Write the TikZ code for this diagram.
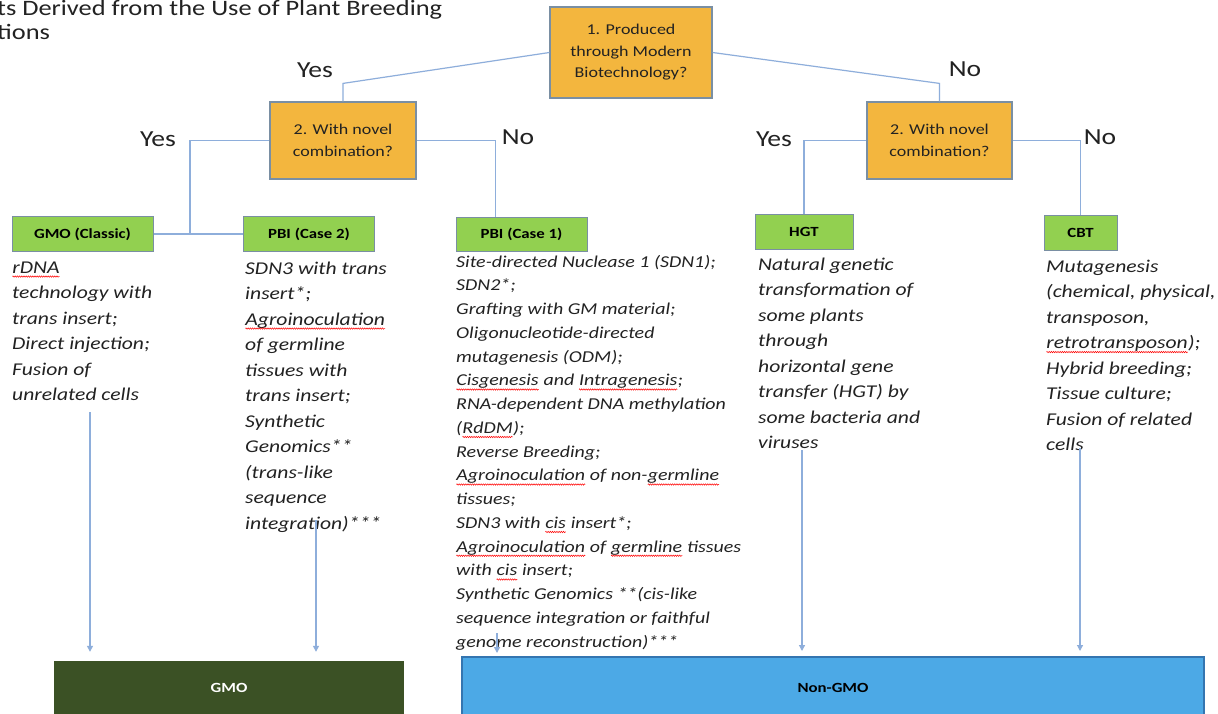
\documentclass[tikz,border=0pt]{standalone}
\usepackage{fontspec}
\setmainfont{Carlito}[FakeStretch=1.2]
\usetikzlibrary{arrows.meta,calc,decorations.pathmorphing}
\definecolor{qorange}{HTML}{F3B63E}
\definecolor{qgreen}{HTML}{92D050}
\definecolor{qborder}{HTML}{7A8FA3}
\definecolor{qline}{HTML}{8EAEDB}
\definecolor{qdark}{HTML}{3B5125}
\definecolor{qblue}{HTML}{4CA9E6}
\definecolor{qblueb}{HTML}{3475B0}
\definecolor{qtext}{HTML}{222222}
\newcommand\sqw[1]{\tikz[baseline=(w.base)]{\node[inner sep=0pt, anchor=base, outer sep=0pt] (w) {#1};\draw[red, line width=0.5pt, decorate, decoration={zigzag, amplitude=0.7pt, segment length=2.2pt}] ([yshift=-3.5pt]w.base west) -- ([yshift=-3.5pt]w.base east);}}
\begin{document}
\begin{tikzpicture}[x=1pt,y=-1pt,
  qbox/.style={draw=qborder, fill=qorange, line width=1.2pt, font=\fontsize{15}{21.5}\selectfont, text=qtext, align=center, inner sep=0pt},
  gbox/.style={draw=qborder, fill=qgreen, line width=1pt, font=\bfseries\fontsize{14}{16}\selectfont, text=black, inner sep=0pt},
  ans/.style={font=\fontsize{23}{24}\selectfont, text=qtext, inner sep=0pt},
  desc/.style={font=\itshape\fontsize{18}{25.5}\selectfont, align=left, anchor=north west, inner sep=0pt, text=qtext},
  descs/.style={font=\itshape\fontsize{16.6}{23.75}\selectfont, align=left, anchor=north west, inner sep=0pt, text=qtext},
  conn/.style={draw=qline, line width=1.2pt},
  arr/.style={conn, -{Triangle[width=6pt,length=6pt]}}]
\useasboundingbox (0,0) rectangle (1218,713);
\clip (0,0) rectangle (1218,713);
\fill[white] (0,0) rectangle (1218,713);

% title
\node[anchor=north west, inner sep=0pt, align=left, font=\fontsize{22}{24.5}\selectfont, text=qtext] (title) at (-3,-2) {\strut ts Derived from the Use of Plant Breeding\\tions};

% decision boxes
\node[qbox, minimum width=162, minimum height=91] (b1) at (631,52.5) {1. Produced\\through Modern\\Biotechnology?};
\node[qbox, minimum width=146, minimum height=77] (b2l) at (343,140.5) {2. With novel\\combination?};
\node[qbox, minimum width=145, minimum height=77] (b2r) at (939.5,140.5) {2. With novel\\combination?};

% answer labels
\node[ans] (y1) at (315,70) {Yes};
\node[ans] (n1) at (965,69) {No};
\node[ans] (y2) at (158,139) {Yes};
\node[ans] (n2) at (518,137) {No};
\node[ans] (y3) at (774,139) {Yes};
\node[ans] (n3) at (1100,137) {No};

% category boxes
\node[gbox, minimum width=141, minimum height=35] (gmoc) at (82.5,234) {GMO (Classic)};
\node[gbox, minimum width=131, minimum height=35] (pbi2) at (309,234) {PBI (Case 2)};
\node[gbox, minimum width=131, minimum height=34] (pbi1) at (521.5,234) {PBI (Case 1)};
\node[gbox, minimum width=98, minimum height=35] (hgt) at (804,231.5) {HGT};
\node[gbox, minimum width=73, minimum height=35] (cbt) at (1080.5,232.5) {CBT};

% descriptions
\node[desc] (gmoct) at (12,255) {\strut\sqw{rDNA}\\technology with\\trans insert;\\Direct injection;\\Fusion of\\unrelated cells};
\node[desc] (pbi2t) at (245,256) {\strut SDN3 with trans\\insert*;\\\sqw{Agroinoculation}\\of germline\\tissues with\\trans insert;\\Synthetic\\Genomics**\\(trans-like\\sequence\\integration)***};
\node[descs] (pbi1t) at (456,250.4) {\strut Site-directed Nuclease 1 (SDN1);\\SDN2*;\\Grafting with GM material;\\Oligonucleotide-directed\\mutagenesis (ODM);\\\sqw{Cisgenesis} and \sqw{Intragenesis};\\RNA-dependent DNA methylation\\(\sqw{RdDM});\\Reverse Breeding;\\\sqw{Agroinoculation} of non-\sqw{germline}\\tissues;\\SDN3 with \sqw{cis} insert*;\\\sqw{Agroinoculation} of \sqw{germline} tissues\\with \sqw{cis} insert;\\Synthetic Genomics **(cis-like\\sequence integration or faithful\\genome reconstruction)***};
\node[desc] (hgtt) at (758,252) {\strut Natural genetic\\transformation of\\some plants\\through\\horizontal gene\\transfer (HGT) by\\some bacteria and\\viruses};
\node[desc] (cbtt) at (1046,254) {\strut Mutagenesis\\(chemical, physical,\\transposon,\\\sqw{retrotransposon});\\Hybrid breeding;\\Tissue culture;\\Fusion of related\\cells};

% result boxes
\node[fill=qdark, minimum width=350, minimum height=54, inner sep=0pt, text=white, font=\bfseries\fontsize{14}{16}\selectfont] (gmo) at (229,688) {GMO};
\node[fill=qblue, draw=qblueb, line width=2pt, minimum width=742, minimum height=62, inner sep=0pt, text=black, font=\bfseries\fontsize{14}{16}\selectfont] (ngmo) at (833,688) {Non-GMO};

% connectors
\draw[conn] (b1.west) -- ($(b2l.north)+(0,-18)$) -- (b2l.north);
\draw[conn] (b1.east) -- ($(b2r.north)+(0,-18)$) -- (b2r.north);
\coordinate (j) at (190,234);
\draw[conn] (b2l.west) -| (j);
\draw[conn] (gmoc.east) -- (pbi2.west);
\draw[conn] (b2l.east) -| ($(pbi1.north west)+(40,0)$);
\draw[conn] (b2r.west) -| (hgt.north);
\draw[conn] (b2r.east) -| (cbt.north);

% arrows to results
\coordinate (s1) at (90,412);
\coordinate (s2) at (316,520);
\coordinate (s3) at (497,633);
\coordinate (s4) at (802,450);
\coordinate (s5) at (1080,448);
\draw[arr] (s1) -- ($(s1 |- gmo.north)+(0,-9)$);
\draw[arr] (s2) -- ($(s2 |- gmo.north)+(0,-9)$);
\draw[arr] (s3) -- ($(s3 |- ngmo.north)+(0,-3)$);
\draw[arr] (s4) -- ($(s4 |- ngmo.north)+(0,-5)$);
\draw[arr] (s5) -- ($(s5 |- ngmo.north)+(0,-5)$);
\end{tikzpicture}
\end{document}
